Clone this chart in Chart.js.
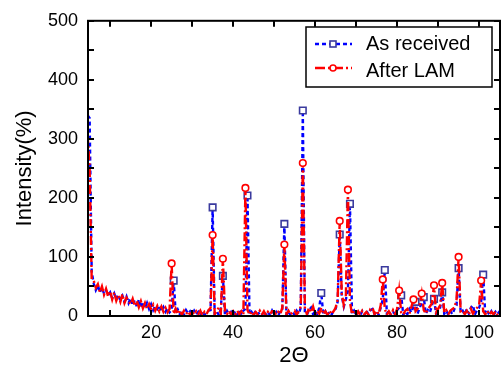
<!DOCTYPE html>
<html>
<head>
<meta charset="utf-8">
<script src="https://cdn.jsdelivr.net/npm/chart.js@4/dist/chart.umd.min.js"></script>
<style>
  html, body { margin: 0; padding: 0; background: #fff; }
  #wrap { width: 502px; height: 369px; position: relative; }
</style>
</head>
<body>
<div id="wrap"><canvas id="c" width="502" height="369"></canvas></div>
<script>
// ---- data ----
const twoTheta = [4.5,
  5,5.5,6,6.5,7,7.5,8,8.5,9,9.5,
  10,10.5,11,11.5,12,12.5,13,13.5,14,14.5,
  15,15.5,16,16.5,17,17.5,18,18.5,19,19.5,
  20,20.5,21,21.5,22,22.5,23,23.5,24,24.5,
  25,25.5,26,26.5,27,27.5,28,28.5,29,29.5,
  30,30.5,31,31.5,32,32.5,33,33.5,34,34.5,
  35,35.5,36,36.5,37,37.5,38,38.5,39,39.5,
  40,40.5,41,41.5,42,42.5,43,43.5,44,44.5,
  45,45.5,46,46.5,47,47.5,48,48.5,49,49.5,
  50,50.5,51,51.5,52,52.5,53,53.5,54,54.5,
  55,55.5,56,56.5,57,57.5,58,58.5,59,59.5,
  60,60.5,61,61.5,62,62.5,63,63.5,64,64.5,
  65,65.5,66,66.5,67,67.5,68,68.5,69,69.5,
  70,70.5,71,71.5,72,72.5,73,73.5,74,74.5,
  75,75.5,76,76.5,77,77.5,78,78.5,79,79.5,
  80,80.5,81,81.5,82,82.5,83,83.5,84,84.5,
  85,85.5,86,86.5,87,87.5,88,88.5,89,89.5,
  90,90.5,91,91.5,92,92.5,93,93.5,94,94.5,
  95,95.5,96,96.5,97,97.5,98,98.5,99,99.5,
  100,100.5,101,101.5,102,102.5,103,103.5,104,104.5,
  105];

const asReceived = [340,
  335,75,55,44,52,40,48,38,44,35,
  40,30,38,28,36,26,34,24,33,22,
  30,18,27,16,28,14,24,13,22,12,
  20,10,17,12,18,8,15,7,13,6,
  10,60,4,11,3,9,2,10,4,8,
  2,9,3,7,1,8,2,6,9,10,
  184,3,8,2,12,68,2,9,3,7,
  1,8,2,10,3,9,12,204,2,7,
  1,9,3,6,1,8,2,7,1,9,
  2,7,1,8,12,156,2,8,1,6,
  2,9,3,14,348,6,2,10,14,3,
  9,2,14,39,2,8,1,7,2,9,
  12,24,138,34,16,28,42,190,4,9,
  1,7,2,8,1,9,3,10,12,3,
  8,2,14,28,78,4,9,1,7,3,
  10,14,35,2,8,3,12,6,16,24,
  4,14,22,32,4,10,6,18,29,4,
  10,14,40,4,9,2,8,3,12,18,
  81,6,9,2,12,4,14,18,3,10,
  14,24,70,4,9,2,8,1,7,3,
  8];

const afterLAM = [308,
  250,62,60,48,54,40,50,36,46,33,
  42,28,40,26,35,24,37,22,31,25,
  20,29,17,26,15,25,13,22,12,20,
  11,19,9,17,8,16,7,14,6,12,
  89,3,12,3,10,2,9,3,8,2,
  7,2,8,3,9,1,7,3,10,14,
  137,3,9,14,4,97,10,3,9,2,
  8,2,9,3,8,2,217,10,2,8,
  2,7,3,9,2,8,1,7,3,8,
  8,2,7,3,14,121,3,9,2,7,
  9,2,8,16,259,14,3,14,6,16,
  3,9,4,14,3,8,2,9,3,8,
  14,28,161,38,18,33,214,24,3,8,
  2,8,2,9,3,7,2,12,14,3,
  9,3,18,62,12,2,8,2,10,3,
  12,43,6,2,9,12,4,16,28,8,
  12,18,38,10,4,12,16,22,52,6,
  12,18,56,6,10,3,9,12,14,28,
  100,8,10,3,9,2,12,4,10,14,
  18,60,8,3,9,2,7,3,8,2,
  7];

// peak positions that carry a marker
const asReceivedPeaks = [25.5,35,37.5,43.5,52.5,57,61.5,66,68.5,77,81,84.5,86.5,89,91,95,101];
const afterLAMPeaks = [25,35,37.5,43,52.5,57,66,68,76.5,80.5,84,86,89,91,95,100.5];

const xTickValues = [10,20,30,40,50,60,70,80,90,100];
const seriesNames = ['As received', 'After LAM'];

// ---- styles ----
const BLUE = '#0000ff', RED = '#ff0000', SQ = '#3a3a9e';
const FONT = '"Liberation Sans", Arial, Helvetica, sans-serif';

const frameTicks = {
  id: 'frameTicks',
  afterDraw(chart) {
    const {ctx, chartArea: a, scales} = chart;
    ctx.save();
    ctx.strokeStyle = '#000';
    ctx.lineWidth = 2;
    const L = 6;
    ctx.beginPath();
    scales.x.ticks.forEach(t => {
      const px = Math.round(scales.x.getPixelForValue(t.value));
      ctx.moveTo(px, a.bottom); ctx.lineTo(px, a.bottom - L);
      ctx.moveTo(px, a.top); ctx.lineTo(px, a.top + L);
    });
    scales.y.ticks.forEach(t => {
      const py = Math.round(scales.y.getPixelForValue(t.value));
      ctx.moveTo(a.left, py); ctx.lineTo(a.left + L, py);
      ctx.moveTo(a.right, py); ctx.lineTo(a.right - L, py);
    });
    ctx.stroke();
    ctx.strokeRect(a.left, a.top, a.right - a.left, a.bottom - a.top);
    ctx.restore();
  }
};

const customLegend = {
  id: 'customLegend',
  afterDraw(chart) {
    const {ctx} = chart;
    ctx.save();
    const bx = 306, by = 27, bw = 186, bh = 60;
    ctx.fillStyle = '#fff';
    ctx.fillRect(bx, by, bw, bh);
    ctx.strokeStyle = '#000';
    ctx.lineWidth = 1.5;
    ctx.strokeRect(bx, by, bw, bh);
    const rows = [
      {y: 44, color: BLUE, dash: [4, 3], marker: 'rect', text: seriesNames[0], ty: 50},
      {y: 68, color: RED, dash: [10, 3, 2, 3], marker: 'circle', text: seriesNames[1], ty: 77}
    ];
    rows.forEach(r => {
      ctx.strokeStyle = r.color;
      ctx.lineWidth = 2.6;
      ctx.setLineDash(r.dash);
      ctx.beginPath();
      ctx.moveTo(315, r.y); ctx.lineTo(352, r.y);
      ctx.stroke();
      ctx.setLineDash([]);
      ctx.lineWidth = 1.6;
      ctx.fillStyle = '#fff';
      if (r.marker === 'rect') {
        ctx.strokeStyle = SQ;
        ctx.fillRect(330, r.y - 3, 6, 6);
        ctx.strokeRect(330, r.y - 3, 6, 6);
      } else {
        ctx.strokeStyle = RED;
        ctx.beginPath();
        ctx.arc(333, r.y, 3, 0, Math.PI * 2);
        ctx.fill(); ctx.stroke();
      }
      ctx.fillStyle = '#000';
      ctx.font = '20px ' + FONT;
      ctx.textBaseline = 'alphabetic';
      ctx.fillText(r.text, 366, r.ty);
    });
    ctx.restore();
  }
};

const toPoints = ys => twoTheta.map((x, i) => ({x, y: ys[i]}));

new Chart(document.getElementById('c'), {
  type: 'line',
  data: {
    datasets: [
      {
        label: seriesNames[1],
        data: toPoints(afterLAM),
        borderColor: RED,
        borderWidth: 2.4,
        borderDash: [9, 3, 2, 3],
        tension: 0,
        order: 0,
        pointStyle: 'circle',
        pointRadius: c => afterLAMPeaks.includes(c.raw && c.raw.x) ? 3.3 : 0,
        pointBorderColor: RED,
        pointBackgroundColor: '#fff',
        pointBorderWidth: 1.6
      },
      {
        label: seriesNames[0],
        data: toPoints(asReceived),
        borderColor: BLUE,
        borderWidth: 2.4,
        borderDash: [4, 3],
        tension: 0,
        order: 1,
        pointStyle: 'rect',
        pointRadius: c => asReceivedPeaks.includes(c.raw && c.raw.x) ? 4.6 : 0,
        pointBorderColor: SQ,
        pointBackgroundColor: '#fff',
        pointBorderWidth: 1.6
      }
    ]
  },
  options: {
    responsive: false,
    animation: false,
    events: [],
    layout: {padding: {top: 16, right: 2, left: 0, bottom: 0}},
    plugins: {legend: {display: false}, tooltip: {enabled: false}},
    scales: {
      x: {
        type: 'linear',
        min: 4.6,
        max: 105.1,
        afterBuildTicks: s => { s.ticks = xTickValues.map(v => ({value: v})); },
        afterFit: s => { s.height = 53; },
        grid: {display: false, drawTicks: false},
        border: {display: false},
        ticks: {
          autoSkip: false, maxRotation: 0, padding: 6,
          color: '#000',
          font: {family: FONT, size: 18},
          callback: v => (v % 20 === 0 ? String(v) : '')
        },
        title: {
          display: true, text: '2Θ', color: '#000',
          font: {family: FONT, size: 22},
          padding: {top: 0, bottom: 0}
        }
      },
      y: {
        min: 0,
        max: 500,
        afterFit: s => { s.width = 88; },
        grid: {display: false, drawTicks: false},
        border: {display: false},
        ticks: {
          stepSize: 50, padding: 10,
          color: '#000',
          font: {family: FONT, size: 18},
          callback: v => (v % 100 === 0 ? String(v) : '')
        },
        title: {
          display: true, text: 'Intensity(%)', color: '#000',
          font: {family: FONT, size: 22},
          padding: {top: 12, bottom: 0}
        }
      }
    }
  },
  plugins: [frameTicks, customLegend]
});
</script>
</body>
</html>
